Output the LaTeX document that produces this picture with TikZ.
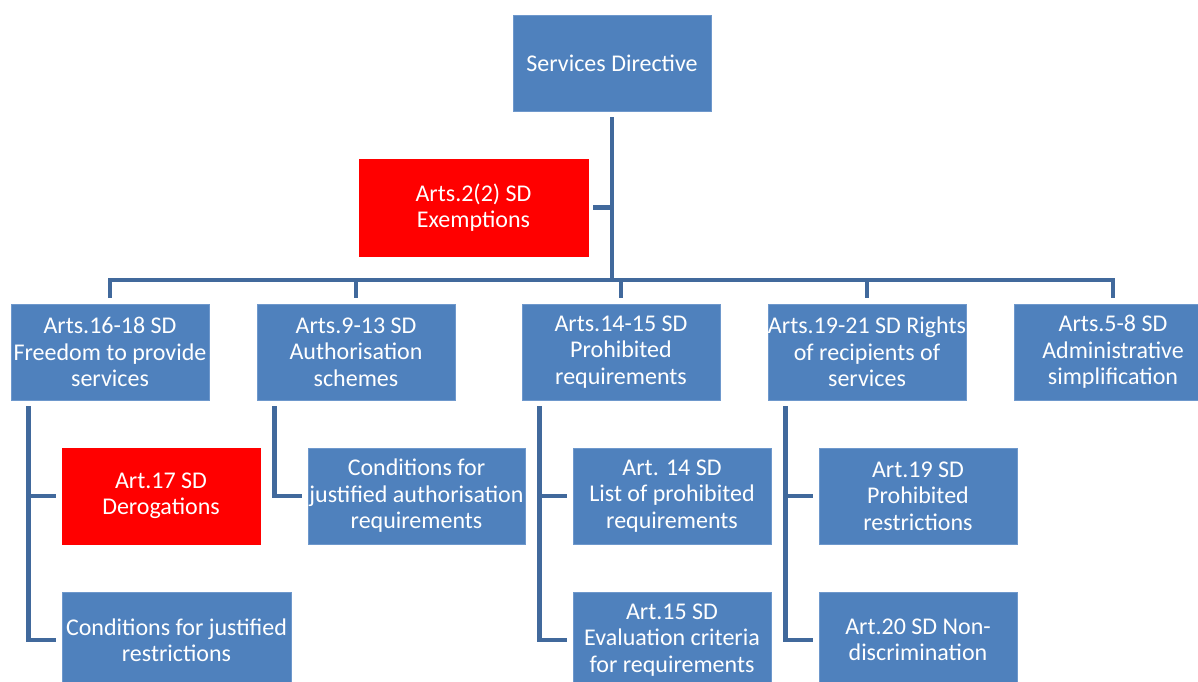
\documentclass[tikz,border=0pt]{standalone}
\usepackage{fontspec}
\setmainfont{Carlito}
\definecolor{boxblue}{HTML}{4F81BD}
\definecolor{boxedge}{HTML}{6E98CC}
\definecolor{linkblue}{HTML}{41699C}
\begin{document}
\begin{tikzpicture}[x=1pt,y=-1pt,
  box/.style={draw=boxedge, line width=0.8pt, fill=boxblue, text=white, align=center,
    inner sep=0pt, minimum width=198pt, minimum height=96pt,
    font=\fontsize{24}{26.5}\selectfont},
  redbox/.style={box, fill=red, draw=red},
  link/.style={draw=linkblue, line width=4.5pt}]
\useasboundingbox (0,0) rectangle (1198,681);
\clip (0,0) rectangle (1198,681);
% top level
\node[box] (top) at (612,63) {Services Directive};
\node[redbox, minimum width=229pt, minimum height=97pt] (exempt) at (473.5,207.5) {Arts.2(2) SD\\Exemptions};
% level 2
\node[box] (b1) at (110,352) {Arts.16-18 SD\\Freedom to provide\\services};
\node[box] (b2) at (356,352) {Arts.9-13 SD\\Authorisation\\schemes};
\node[box] (b3) at (621,352) {Arts.14-15 SD\\Prohibited\\requirements};
\node[box] (b4) at (867,352) {Arts.19-21 SD Rights\\of recipients of\\services};
\node[box] (b5) at (1113,352) {Arts.5-8 SD\\Administrative\\simplification};
% level 3
\node[redbox] (c1) at (161,496) {Art.17 SD\\Derogations};
\node[box, minimum width=229pt] (c2) at (176.5,640) {Conditions for justified\\restrictions};
\node[box, minimum width=217pt] (c3) at (416.5,496) {Conditions for\\justified authorisation\\requirements};
\node[box] (c4) at (672,496) {Art. 14 SD\\List of prohibited\\requirements};
\node[box] (c5) at (672,640) {Art.15 SD\\Evaluation criteria\\for requirements};
\node[box] (c6) at (918,496) {Art.19 SD\\Prohibited\\restrictions};
\node[box] (c7) at (918,640) {Art.20 SD Non-\\discrimination};
% connectors
\coordinate (bus) at (612,280);
\draw[link] ([yshift=-6pt]top.south) -- (top.south |- bus);
\draw[link] ([xshift=5pt]exempt.east) -- (exempt.east -| bus);
\draw[link] ([yshift=6pt]b1.north) |- (bus) -| ([yshift=6pt]b5.north);
\draw[link] (b2.north |- bus) -- ([yshift=6pt]b2.north);
\draw[link] (b3.north |- bus) -- ([yshift=6pt]b3.north);
\draw[link] (b4.north |- bus) -- ([yshift=6pt]b4.north);
\coordinate (t1) at ([xshift=18pt,yshift=-6pt]b1.south west);
\coordinate (t2) at ([xshift=18pt,yshift=-6pt]b2.south west);
\coordinate (t3) at ([xshift=18pt,yshift=-6pt]b3.south west);
\coordinate (t4) at ([xshift=18pt,yshift=-6pt]b4.south west);
\draw[link] (t1) |- ([xshift=-6pt]c2.west);
\draw[link] (t1 |- c1.west) -- ([xshift=-6pt]c1.west);
\draw[link] (t2) |- ([xshift=-6pt]c3.west);
\draw[link] (t3) |- ([xshift=-6pt]c5.west);
\draw[link] (t3 |- c4.west) -- ([xshift=-6pt]c4.west);
\draw[link] (t4) |- ([xshift=-6pt]c7.west);
\draw[link] (t4 |- c6.west) -- ([xshift=-6pt]c6.west);
\end{tikzpicture}
\end{document}
